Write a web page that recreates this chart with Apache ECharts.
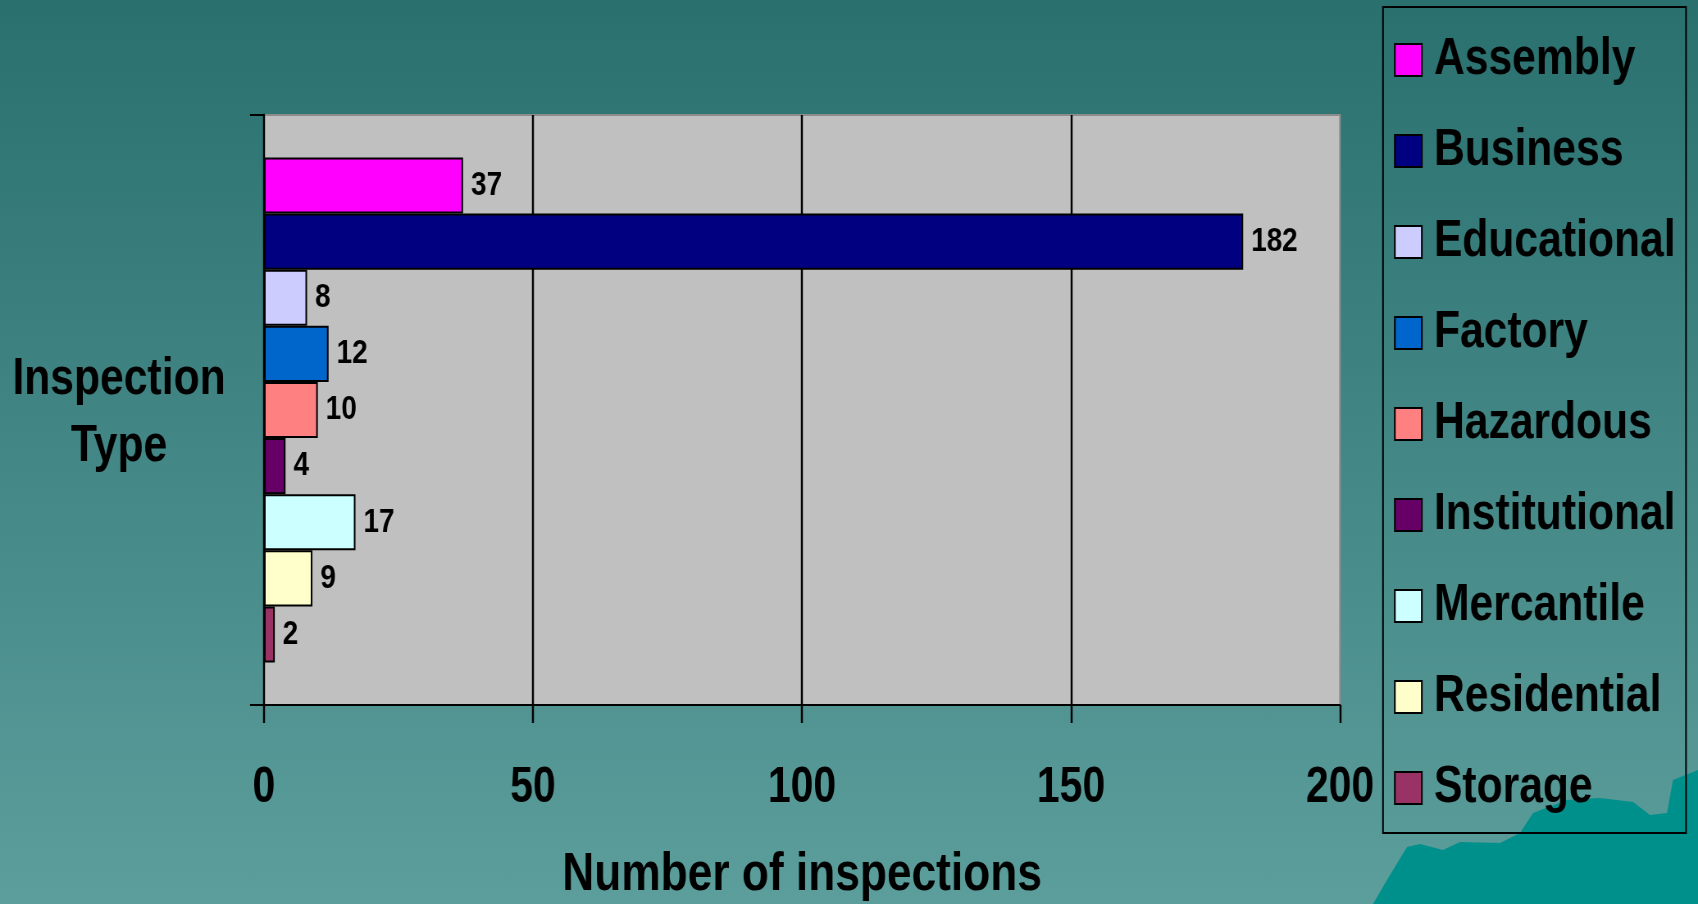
<!DOCTYPE html>
<html>
<head>
<meta charset="utf-8">
<script src="https://cdn.jsdelivr.net/npm/echarts@6/dist/echarts.min.js"></script>
<style>
html,body{margin:0;padding:0;overflow:hidden;width:1698px;height:904px;background:#29706f;}
#wrap{width:1698px;height:904px;overflow:hidden;background:linear-gradient(to bottom,#29706f 0%,#5c9e9c 100%);}
#chart{width:2071px;height:904px;transform:scaleX(0.81989);transform-origin:0 0;}
</style>
</head>
<body>
<div id="wrap"><div id="chart"></div></div>
<script>
const categories = ['Assembly','Business','Educational','Factory','Hazardous','Institutional','Mercantile','Residential','Storage'];
const values = [37,182,8,12,10,4,17,9,2];
const colors = ['#ff00ff','#000080','#ccccff','#0066cc','#ff8080','#660066','#ccffff','#ffffcc','#993366'];
const xTicks = [0,50,100,150,200];
const xTitle = 'Number of inspections';
const yTitle = 'Inspection\nType';

// Horizontal compression emulating a narrow typeface (Arial Narrow look)
const S = 1698/2071;
const X = v => v / S;

const FONT = "'Liberation Sans',Arial,sans-serif";

const chart = echarts.init(document.getElementById('chart'), null, {renderer:'canvas'});

const series = categories.map((name,i)=>({
  name: name,
  type: 'bar',
  data: [values[i]],
  barGap: '0%',
  barCategoryGap: '14.4%',
  itemStyle: {color: colors[i], borderColor:'#000', borderWidth:2},
  label: {show:true, position:'right', distance:X(8), color:'#000', fontFamily:FONT, fontWeight:'bold', fontSize:34},
  emphasis:{disabled:true},
  animation:false
}));

const shapePts = [[1373,904],[1387,880],[1407,847],[1420,844],[1443,850],[1460,842],[1500,843],[1520,833],[1533,813],[1567,800],[1600,798],[1633,802],[1650,815],[1667,813],[1673,780],[1698,770],[1698,904]].map(p=>[X(p[0]),p[1]]);

chart.setOption({
  backgroundColor: 'transparent',
  animation: false,
  textStyle: {fontFamily: FONT},
  grid: {left:X(264), top:115, width:X(1076), height:590, outerBoundsMode:'none', containLabel:false, show:true, backgroundColor:'#c0c0c0', borderColor:'#8c8c8c', borderWidth:2},
  xAxis: {
    type:'value', min:xTicks[0], max:xTicks[xTicks.length-1], interval:xTicks[1]-xTicks[0],
    axisLine:{show:true, lineStyle:{color:'#000', width:2}},
    axisTick:{show:true, length:18, lineStyle:{color:'#000', width:X(2)}},
    axisLabel:{color:'#000', fontFamily:FONT, fontWeight:'bold', fontSize:50, margin:58},
    splitLine:{show:true, showMinLine:false, showMaxLine:false, lineStyle:{color:'#000', width:X(2)}},
    name: xTitle, nameLocation:'middle', nameGap:170,
    nameTextStyle:{color:'#000', fontFamily:FONT, fontWeight:'bold', fontSize:54, verticalAlign:'middle'}
  },
  yAxis: {
    type:'category', data:[''], inverse:true,
    axisLine:{show:true, lineStyle:{color:'#000', width:X(2)}},
    axisTick:{show:true, length:X(14), lineStyle:{color:'#000', width:2}},
    axisLabel:{show:false},
    splitLine:{show:false}
  },
  legend: {
    orient:'vertical', left:X(1383), top:7, padding:[23,X(8),16,X(11)],
    itemWidth:X(27), itemHeight:32, itemGap:31, icon:'rect',
    itemStyle:{borderColor:'#000', borderWidth:2},
    textStyle:{color:'#000', fontFamily:FONT, fontWeight:'bold', fontSize:52, lineHeight:60, padding:[0,0,0,X(8)]},
    selectedMode:false,
    data: categories
  },
  graphic: [
    {type:'polygon', z:-1, silent:true,
     shape:{points:shapePts},
     style:{fill:'#00908c'}},
    {type:'rect', z:10, silent:true,
     shape:{x:X(1383), y:7, width:X(303), height:826},
     style:{fill:'none', stroke:'#000', lineWidth:2}},
    {type:'text', z:10, silent:true, x:X(119), y:413,
     style:{text:yTitle, fill:'#000', font:"bold 52px 'Liberation Sans',Arial,sans-serif", lineHeight:67, align:'center', verticalAlign:'middle'}}
  ],
  series: series
});
</script>
</body>
</html>
